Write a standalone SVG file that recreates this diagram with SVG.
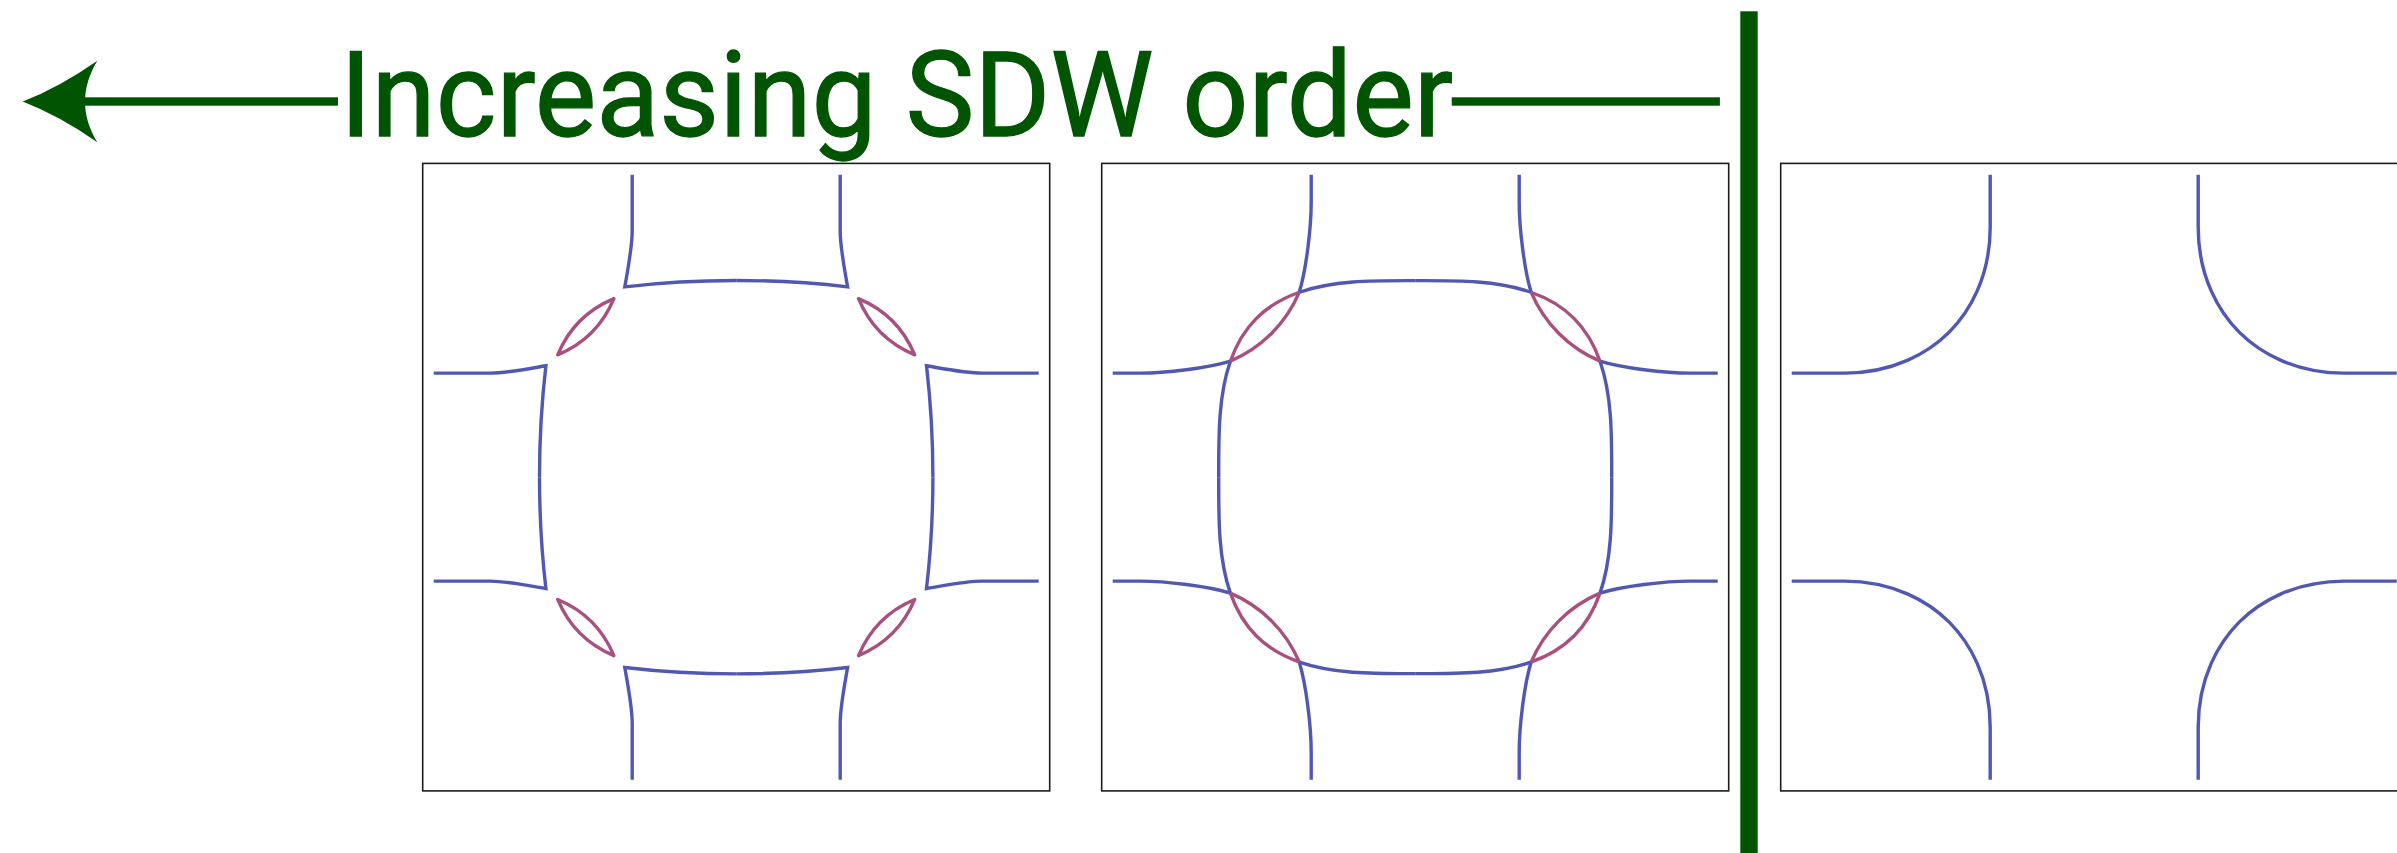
<svg xmlns="http://www.w3.org/2000/svg" xmlns:xlink="http://www.w3.org/1999/xlink" width="2397" height="853" viewBox="0 0 2397 853">
  <style>
    .frame { fill: none; stroke: #1c1c1c; stroke-width: 1.6; }
    .fs-blue { fill: none; stroke: #5058b2; stroke-width: 3.4; stroke-linejoin: miter; stroke-linecap: butt; }
    .fs-pink { fill: none; stroke: #a8507f; stroke-width: 3.4; stroke-linejoin: round; }
    .green { fill: #015502; }
    .title { font-family: Roboto, "Liberation Sans", sans-serif; font-size: 118px; fill: #015502; stroke: #015502; stroke-width: 1.3; }
  </style>
  <defs>
    <!-- top-left quadrant of the gapped Fermi surface: arm with a sharp kink plus a small pocket -->
    <g id="q1">
      <path id="q1-arm" class="fs-blue" d="M-104,-302.5 L-104,-246 C-104,-230 -108,-210 -111.4,-190.3 C-80,-194 -40,-196.7 0,-196.7"/>
      <use href="#q1-arm" xlink:href="#q1-arm" transform="matrix(0,1,1,0,0,0)"/>
      <path class="fs-pink" d="M-178.5,-122.3 Q-162,-162 -122.3,-178.5 Q-138.8,-138.8 -178.5,-122.3 Z"/>
    </g>
    <!-- top-left quadrant of the weakly gapped surface: crossing bands -->
    <g id="q2">
      <g id="q2-arm">
        <path class="fs-blue" d="M-104,-302.5 L-104,-275 C-104,-250 -109,-207 -116,-184.8"/>
        <path class="fs-blue" d="M-115.7,-184.9 C-80.7,-197.1 -40,-196.5 0,-196.5"/>
      </g>
      <use href="#q2-arm" xlink:href="#q2-arm" transform="matrix(0,1,1,0,0,0)"/>
      <path class="fs-pink" d="M-115.7,-184.9 C-132.7,-179 -146.8,-170.8 -158.8,-158.8 C-170.8,-146.8 -179,-132.7 -184.9,-115.7"/>
      <path class="fs-pink" d="M-116,-184.8 A129.7,129.7 0 0 1 -184.8,-116"/>
    </g>
    <!-- top-left quadrant of the ungapped surface -->
    <path id="q3" class="fs-blue" d="M-104,-302.5 L-104,-250 C-104,-200 -125,-165 -145,-145 C-165,-125 -200,-104 -250,-104 L-302.5,-104"/>
  </defs>

  <rect width="2397" height="853" fill="#ffffff"/>

  <g id="title">
    <text class="title" x="340" y="135.5" textLength="1113" lengthAdjust="spacingAndGlyphs">Increasing SDW order</text>
  </g>

  <g id="connectors">
    <rect class="green" x="84" y="97.3" width="254" height="8.4"/>
    <path class="green" d="M22.7,101.5 Q60,87 97.3,60.7 C81,88 81,115 97.3,142.3 Q60,116 22.7,101.5 Z"/>
    <rect class="green" x="1451.7" y="97.3" width="268.2" height="8.4"/>
  </g>

  <g id="divider">
    <rect class="green" x="1740.3" y="11.3" width="17.4" height="842"/>
  </g>

  <g id="panel-strong" transform="translate(736.2,477.15)">
    <rect class="frame" x="-313.5" y="-313.75" width="627" height="627.5"/>
    <use href="#q1" xlink:href="#q1"/>
    <use href="#q1" xlink:href="#q1" transform="scale(-1,1)"/>
    <use href="#q1" xlink:href="#q1" transform="scale(1,-1)"/>
    <use href="#q1" xlink:href="#q1" transform="scale(-1,-1)"/>
  </g>

  <g id="panel-weak" transform="translate(1415.2,477.15)">
    <rect class="frame" x="-313.5" y="-313.75" width="627" height="627.5"/>
    <use href="#q2" xlink:href="#q2"/>
    <use href="#q2" xlink:href="#q2" transform="scale(-1,1)"/>
    <use href="#q2" xlink:href="#q2" transform="scale(1,-1)"/>
    <use href="#q2" xlink:href="#q2" transform="scale(-1,-1)"/>
  </g>

  <g id="panel-normal" transform="translate(2094.2,477.15)">
    <rect class="frame" x="-313.5" y="-313.75" width="627" height="627.5"/>
    <use href="#q3" xlink:href="#q3"/>
    <use href="#q3" xlink:href="#q3" transform="scale(-1,1)"/>
    <use href="#q3" xlink:href="#q3" transform="scale(1,-1)"/>
    <use href="#q3" xlink:href="#q3" transform="scale(-1,-1)"/>
  </g>
</svg>
